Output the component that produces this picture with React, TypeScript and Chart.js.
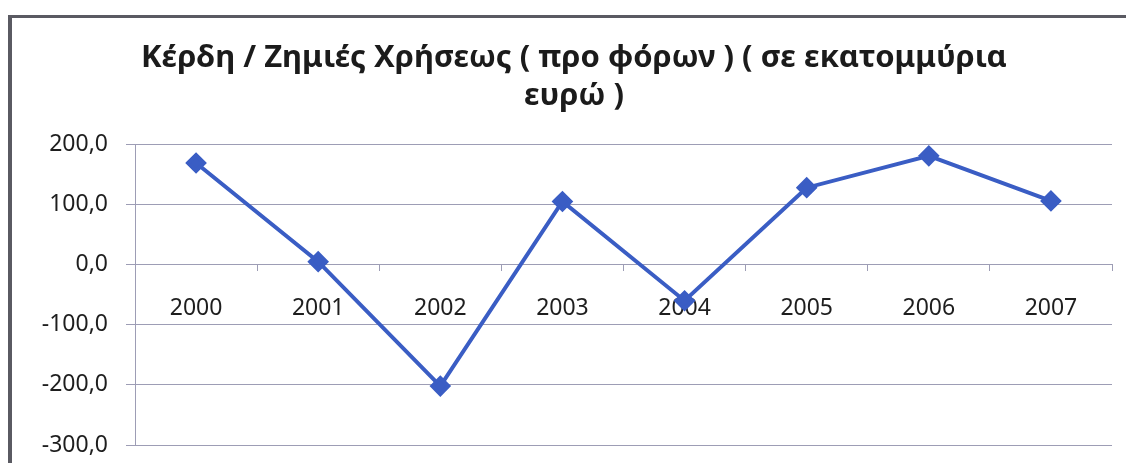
import React, { useEffect, useRef } from "react";
import { Chart, registerables } from "chart.js";

Chart.register(...registerables);

const years = ["2000", "2001", "2002", "2003", "2004", "2005", "2006", "2007"];
const profitLoss = [169, 5, -202, 105, -60, 128, 181, 106];
const titleLines = ["Κέρδη / Ζημιές Χρήσεως ( προ φόρων ) ( σε εκατομμύρια", "ευρώ )"];
const yMin = -300;
const yMax = 200;
const yStep = 100;

const LINE = "#3A5DC4";
const GRID = "#9d9db5";
const FONT = "'Noto Sans', 'DejaVu Sans', sans-serif";

export default function App() {
  const ref = useRef<HTMLCanvasElement | null>(null);

  useEffect(() => {
    document.body.style.margin = "0";
    document.body.style.background = "#ffffff";
    const canvas = ref.current;
    if (!canvas) return;
    const chart = new Chart(canvas, {
      type: "line",
      data: {
        labels: years,
        datasets: [
          {
            data: profitLoss,
            borderColor: LINE,
            backgroundColor: LINE,
            borderWidth: 4,
            pointStyle: "rectRot",
            pointRadius: 8,
            pointHoverRadius: 8,
            pointBackgroundColor: LINE,
            pointBorderColor: LINE,
            tension: 0,
            fill: false,
          },
        ],
      },
      options: {
        animation: false,
        responsive: false,
        maintainAspectRatio: false,
        layout: { padding: { left: 36, right: 14, top: 0, bottom: 18 } },
        plugins: {
          legend: { display: false },
          tooltip: { enabled: false },
          title: {
            display: true,
            text: titleLines,
            color: "#1b1b1b",
            font: { family: FONT, size: 31, weight: "bold", lineHeight: 1.2 },
            padding: { top: 40, bottom: 30 },
          },
        },
        scales: {
          x: {
            type: "category",
            position: { y: 0 },
            offset: true,
            grid: {
              display: true,
              drawOnChartArea: false,
              drawTicks: true,
              tickLength: 6,
              offset: true,
              color: GRID,
            },
            border: { display: true, color: GRID, width: 1 },
            ticks: {
              color: "#1e1e1e",
              font: { family: FONT, size: 23 },
              padding: 24,
              maxRotation: 0,
              autoSkip: false,
            },
          },
          y: {
            min: yMin,
            max: yMax,
            afterFit: (scale: any) => {
              scale.width = 99;
              scale.paddingBottom = 0;
              scale.paddingTop = 0;
            },
            grid: {
              color: GRID,
              lineWidth: 1,
              drawTicks: true,
              tickLength: 9,
            },
            border: { display: true, color: GRID, width: 1 },
            ticks: {
              stepSize: yStep,
              color: "#1e1e1e",
              font: { family: FONT, size: 23 },
              padding: 18,
              callback: (v: any) => Number(v).toFixed(1).replace(".", ","),
            },
          },
        },
      },
    });
    return () => chart.destroy();
  }, []);

  return (
    <div style={{ position: "fixed", left: 0, top: 0, width: 1126, height: 463, background: "#ffffff" }}>
      <div
        style={{
          position: "absolute",
          left: 8,
          top: 15,
          right: 0,
          bottom: 0,
          borderLeft: "4px solid #5a5a62",
          borderTop: "3px solid #5a5a62",
        }}
      />
      <canvas ref={ref} width={1126} height={463} style={{ position: "absolute", left: 0, top: 0, width: 1126, height: 463 }} />
    </div>
  );
}
